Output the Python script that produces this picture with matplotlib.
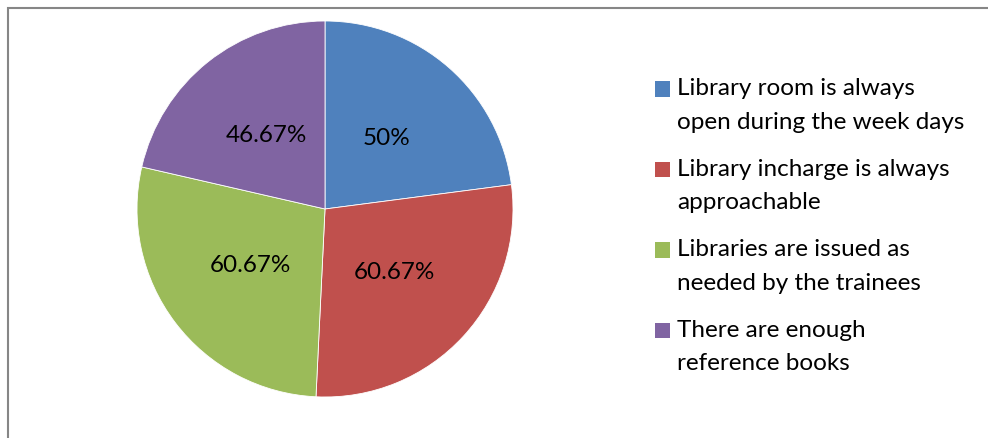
import matplotlib
matplotlib.use("Agg")
import matplotlib.pyplot as plt
from matplotlib.patches import Rectangle
from matplotlib.legend_handler import HandlerPatch

categories = [
    "Library room is always\nopen during the week days",
    "Library incharge is always\napproachable",
    "Libraries are issued as\nneeded by the trainees",
    "There are enough\nreference books",
]
values = [50, 60.67, 60.67, 46.67]
colors = ["#4F81BD", "#C0504D", "#9BBB59", "#8064A2"]

plt.rcParams["font.family"] = ["Lato", "DejaVu Sans"]
FS = 17.5

W, H = 988, 438
fig = plt.figure(figsize=(W / 100, H / 100), dpi=100)

# chart border
fig.patches.append(Rectangle((8 / W, -0.1), 1.2, 1 - 8 / H + 0.1, transform=fig.transFigure,
                             fill=False, edgecolor="#868686", linewidth=1.5))

cx, cy, R = 325, 209, 188
ax = fig.add_axes([(cx - R) / W, (H - cy - R) / H, 2 * R / W, 2 * R / H])

lab_iter = iter([f"{v:g}%" for v in values])
wedges, texts, autotexts = ax.pie(values, colors=colors, startangle=90, counterclock=False,
                                  autopct=lambda p: next(lab_iter), pctdistance=0.5,
                                  wedgeprops=dict(edgecolor="white", linewidth=0.6),
                                  textprops=dict(fontsize=FS, color="black"))
ax.set_xlim(-1, 1)
ax.set_ylim(-1, 1)
ax.set_aspect("equal")


class TopHandler(HandlerPatch):
    def __init__(self, shift):
        super().__init__()
        self.shift = shift

    def create_artists(self, legend, orig_handle, xdescent, ydescent, width, height, fontsize, trans):
        p = Rectangle((-xdescent, -ydescent + self.shift), width, height,
                      facecolor=orig_handle.get_facecolor(), edgecolor="none", transform=trans)
        return [p]


px = FS * 100 / 72
leg = fig.legend(wedges, categories, loc="upper left", bbox_to_anchor=(655 / W, 1 - 78 / H),
                 frameon=False, fontsize=FS, borderpad=0, borderaxespad=0,
                 handlelength=15 / px, handleheight=15 / px, handletextpad=7 / px,
                 labelspacing=26 / px,
                 handler_map={w: TopHandler(11.8) for w in wedges})
for t in leg.get_texts():
    t.set_linespacing(1.74)

fig.savefig("out.png", dpi=100)
